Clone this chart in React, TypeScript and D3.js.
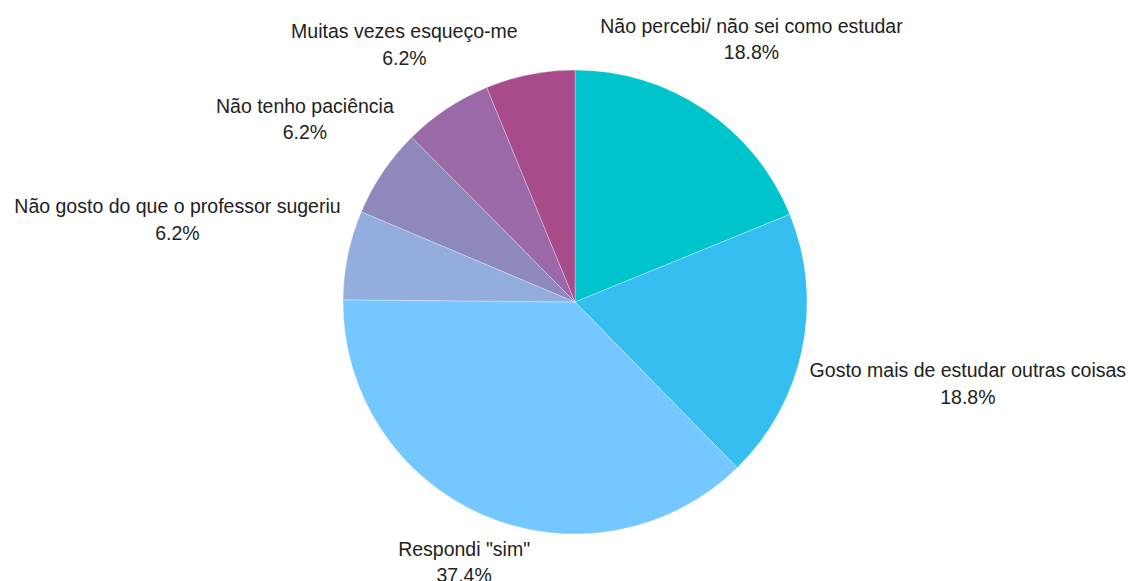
import React, { useEffect, useRef } from "react";
import * as d3 from "d3";

const labels = [
  "Não percebi/ não sei como estudar",
  "Gosto mais de estudar outras coisas",
  'Respondi "sim"',
  "Não gosto do que o professor sugeriu",
  "Não tenho paciência",
  "Muitas vezes esqueço-me",
  "",
];
const values = [18.8, 18.8, 37.4, 6.2, 6.2, 6.2, 6.2];
const showLabel = [true, true, true, true, true, true, false];
const colors = ["#00C4CC", "#35BEEF", "#75C7FF", "#93AEDE", "#8F88BC", "#9B69A8", "#A74B8B"];

const W = 1135;
const H = 581;

export default function App() {
  const ref = useRef<SVGSVGElement>(null);
  useEffect(() => {
    const svg = d3.select(ref.current);
    svg.selectAll("*").remove();
    const cx = 575, cy = 302, r = 232;
    const fontSize = 19.5;
    const lineH = 26.5;
    const R0 = r + 10;
    const data = values.map((v, i) => ({ v, label: labels[i], color: colors[i], show: showLabel[i] }));
    const pie = d3.pie<any>().value((d) => d.v).sort(null).startAngle(0).endAngle(2 * Math.PI);
    const arc = d3.arc<any>().innerRadius(0).outerRadius(r);
    const arcs = pie(data);
    const g = svg.append("g").attr("transform", `translate(${cx},${cy})`);
    g.selectAll("path")
      .data(arcs)
      .join("path")
      .attr("d", arc)
      .attr("fill", (d) => d.data.color)
      .attr("stroke", "rgba(255,255,255,0.5)")
      .attr("stroke-width", 0.6);

    arcs.forEach((a) => {
      if (!a.data.show) return;
      const mid = (a.startAngle + a.endAngle) / 2;
      const lg = g.append("g");
      const inner = lg.append("g");
      [a.data.label, d3.format(".1f")(a.data.v) + "%"].forEach((txt, k) => {
        inner
          .append("text")
          .attr("text-anchor", "middle")
          .attr("x", 0)
          .attr("y", k * lineH)
          .attr("font-family", "Liberation Sans, Arial, sans-serif")
          .attr("font-size", fontSize)
          .attr("fill", "#222")
          .text(txt);
      });
      const bb = (inner.node() as SVGGElement).getBBox();
      const w = bb.width;
      const h = bb.height - 4;
      const bcx = bb.x + bb.width / 2;
      const bcy = bb.y + bb.height / 2;
      const s = Math.sin(mid), c = Math.cos(mid);
      const A = Math.abs(s) * w / 2 + Math.abs(c) * h / 2;
      const t = A + Math.sqrt(Math.max(0, A * A - (w * w + h * h) / 4 + R0 * R0));
      const x = t * s;
      const y = -t * c;
      lg.attr("transform", `translate(${x - bcx},${y - bcy})`);
    });
  }, []);
  return (
    <svg
      ref={ref}
      width={W}
      height={H}
      style={{ position: "absolute", left: 0, top: 0, background: "#fff" }}
    />
  );
}
